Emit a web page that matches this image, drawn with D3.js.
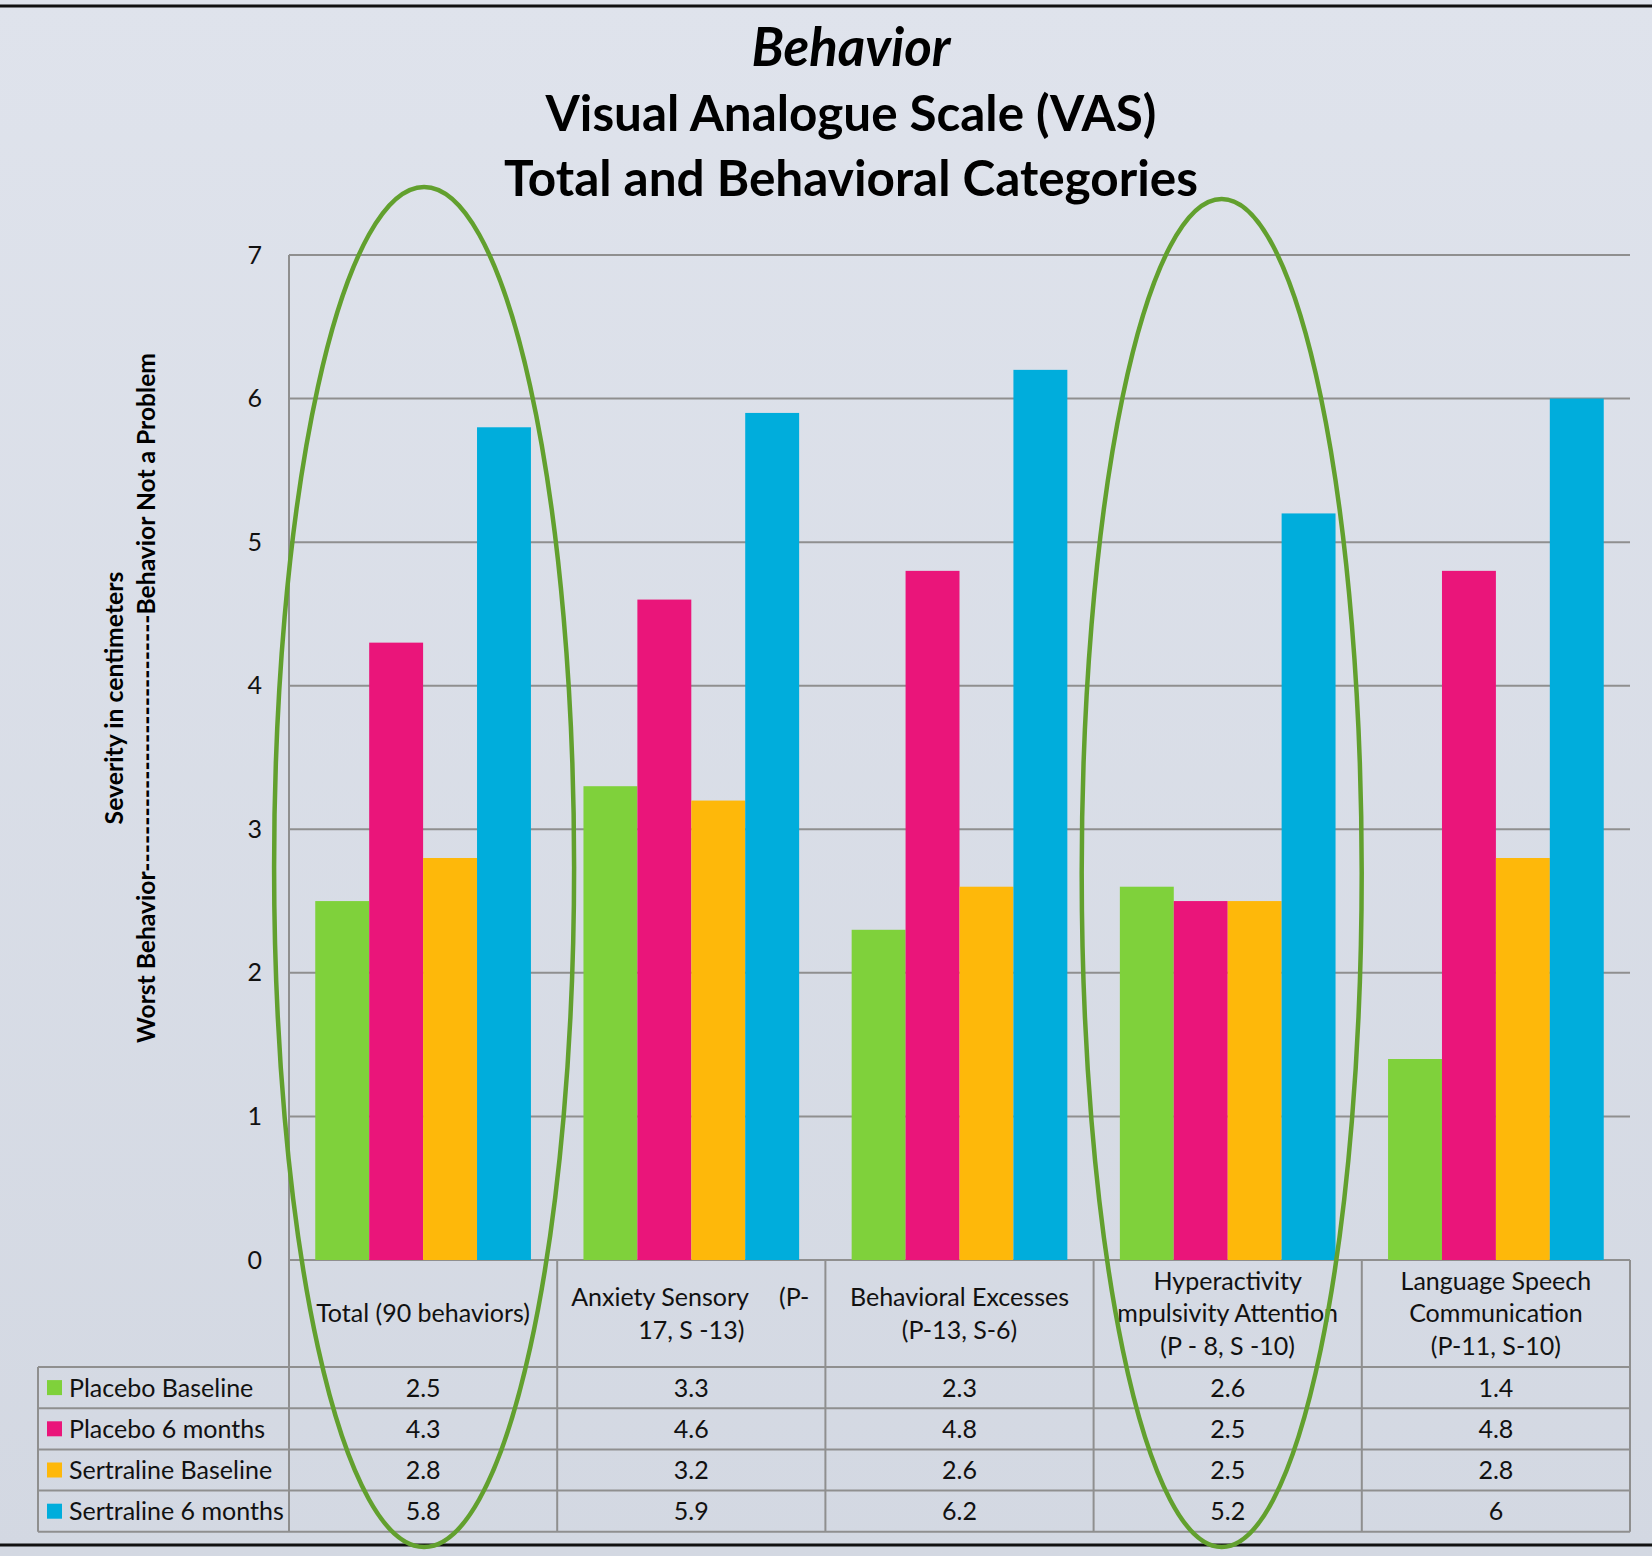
<!DOCTYPE html>
<html>
<head>
<meta charset="utf-8">
<script src="https://cdn.jsdelivr.net/npm/d3@7"></script>
<style>
  html, body { margin: 0; padding: 0; background: #d9dde7; }
  svg { display: block; }
</style>
</head>
<body>
<svg id="chart"></svg>
<script>
// ---- data ----
const categories = ["Total", "Anxiety Sensory", "Behavioral Excesses", "Hyperactivity", "Language Speech"];
// header cell text, one entry per line; a tab splits a justified line into left / right parts
const categoryLabels = [
  ["Total (90 behaviors)"],
  ["Anxiety Sensory\t(P-", "17, S -13)"],
  ["Behavioral Excesses", "(P-13, S-6)"],
  ["Hyperactivity", "mpulsivity Attention", "(P - 8, S -10)"],
  ["Language Speech", "Communication", "(P-11, S-10)"]
];
const seriesNames = ["Placebo Baseline", "Placebo 6 months", "Sertraline Baseline", "Sertraline 6 months"];
const placeboBaseline    = [2.5, 3.3, 2.3, 2.6, 1.4];
const placebo6Months     = [4.3, 4.6, 4.8, 2.5, 4.8];
const sertralineBaseline = [2.8, 3.2, 2.6, 2.5, 2.8];
const sertraline6Months  = [5.8, 5.9, 6.2, 5.2, 6];
const seriesColors = ["#7fd13b", "#ea157a", "#feb80a", "#00addc"];
const yTicks = [0, 1, 2, 3, 4, 5, 6, 7];
const highlighted = ["Total", "Hyperactivity"];
const titleLines = ["Behavior", "Visual Analogue Scale (VAS)", "Total and Behavioral Categories"];
const yTitleTop = "Severity in centimeters";
const yTitleBottom = "Worst Behavior" + "-".repeat(28) + "Behavior Not a Problem";

const seriesValues = [placeboBaseline, placebo6Months, sertralineBaseline, sertraline6Months];

// ---- layout ----
const W = 1652, H = 1556;
const FONT = "Lato, 'Open Sans', 'Noto Sans', sans-serif";
const plotLeft = 289, plotRight = 1630, plotTop = 255, plotBottom = 1260;
const legendLeft = 38;
const headerBottom = 1367;
const rowH = 41.2;
const gridColor = "#8f8f8f";

const svg = d3.select("#chart").attr("width", W).attr("height", H)
  .attr("viewBox", `0 0 ${W} ${H}`);

// background
const defs = svg.append("defs");
const grad = defs.append("linearGradient").attr("id", "bg").attr("x1", 0).attr("y1", 0).attr("x2", 0).attr("y2", 1);
grad.append("stop").attr("offset", "0%").attr("stop-color", "#dfe3ec");
grad.append("stop").attr("offset", "100%").attr("stop-color", "#d3d8e2");
svg.append("rect").attr("width", W).attr("height", H).attr("fill", "url(#bg)");

// text measuring helper, used to size fonts to the available widths
function measure(text, size, weight, style) {
  const t = svg.append("text").attr("font-family", FONT).attr("font-size", size)
    .attr("font-weight", weight).attr("font-style", style || "normal").text(text);
  const w = t.node().getComputedTextLength();
  t.remove();
  return w;
}
const fitSize = (text, width, weight, style) => 100 * width / measure(text, 100, weight, style);
const regSize = fitSize("Total (90 behaviors)", 214, 400);

// scales
const x = d3.scaleBand().domain(categories).range([plotLeft, plotRight]).paddingInner(0).paddingOuter(0);
const xs = d3.scaleBand().domain(seriesNames).range([0, x.bandwidth()]).paddingInner(0).paddingOuter(0.487);
const y = d3.scaleLinear().domain([0, 7]).range([plotBottom, plotTop]);

// frame lines top and bottom
svg.append("line").attr("x1", 0).attr("x2", W).attr("y1", 6).attr("y2", 6)
  .attr("stroke", "#111").attr("stroke-width", 3);
svg.append("line").attr("x1", 0).attr("x2", W).attr("y1", 1545).attr("y2", 1545)
  .attr("stroke", "#111").attr("stroke-width", 3);

// gridlines
svg.append("g").selectAll("line").data(yTicks).join("line")
  .attr("x1", plotLeft).attr("x2", plotRight)
  .attr("y1", d => y(d)).attr("y2", d => y(d))
  .attr("stroke", gridColor).attr("stroke-width", 2);

// y axis line (continues as table border)
const tableBottom = headerBottom + rowH * seriesNames.length;
svg.append("line").attr("x1", plotLeft).attr("x2", plotLeft).attr("y1", plotTop).attr("y2", tableBottom)
  .attr("stroke", gridColor).attr("stroke-width", 2);

// y axis tick labels
const yAxis = d3.axisLeft(y).tickValues(yTicks).tickSize(0).tickPadding(27).tickFormat(d3.format("d"));
const gy = svg.append("g").attr("transform", `translate(${plotLeft},0)`).call(yAxis);
gy.select(".domain").remove();
gy.selectAll("text").attr("font-family", FONT).attr("font-size", regSize).attr("fill", "#111");

// bars
const barData = [];
categories.forEach((c, ci) => seriesNames.forEach((s, si) => barData.push({ c, s, si, v: seriesValues[si][ci] })));
svg.append("g").selectAll("rect").data(barData).join("rect")
  .attr("x", d => x(d.c) + xs(d.s))
  .attr("width", xs.bandwidth())
  .attr("y", d => y(d.v))
  .attr("height", d => y(0) - y(d.v))
  .attr("fill", d => seriesColors[d.si]);

// data table
const table = svg.append("g").attr("stroke", gridColor).attr("stroke-width", 2);
// horizontal lines
d3.range(seriesNames.length + 1).forEach(i => {
  const yy = headerBottom + i * rowH;
  table.append("line").attr("x1", legendLeft).attr("x2", plotRight).attr("y1", yy).attr("y2", yy);
});
// vertical lines
table.append("line").attr("x1", legendLeft).attr("x2", legendLeft).attr("y1", headerBottom).attr("y2", tableBottom);
categories.forEach((c, i) => {
  const xx = x(c) + x.bandwidth();
  table.append("line").attr("x1", xx).attr("x2", xx).attr("y1", plotBottom).attr("y2", tableBottom);
});

const textG = svg.append("g").attr("font-family", FONT).attr("font-size", regSize).attr("fill", "#111");

// header labels
const lineGap = 32.5;
const headerMid = (plotBottom + headerBottom) / 2;
categories.forEach((c, ci) => {
  const lines = categoryLabels[ci];
  const x0 = x(c), cx = x0 + x.bandwidth() / 2;
  lines.forEach((ln, li) => {
    const yy = headerMid + (li - (lines.length - 1) / 2) * lineGap;
    if (ln.includes("\t")) {
      const [left, right] = ln.split("\t");
      textG.append("text").attr("x", x0 + 14).attr("y", yy).attr("dy", "0.35em").text(left);
      textG.append("text").attr("x", x0 + x.bandwidth() - 16).attr("y", yy).attr("dy", "0.35em")
        .attr("text-anchor", "end").text(right);
    } else {
      textG.append("text").attr("x", cx).attr("y", yy).attr("dy", "0.35em")
        .attr("text-anchor", "middle").text(ln);
    }
  });
});

// legend column and values
seriesNames.forEach((s, si) => {
  const cy = headerBottom + si * rowH + rowH / 2;
  svg.append("rect").attr("x", 47).attr("y", cy - 7.5).attr("width", 15).attr("height", 15)
    .attr("fill", seriesColors[si]);
  textG.append("text").attr("x", 69).attr("y", cy).attr("dy", "0.36em").text(s);
  categories.forEach((c, ci) => {
    textG.append("text").attr("x", x(c) + x.bandwidth() / 2).attr("y", cy).attr("dy", "0.36em")
      .attr("text-anchor", "middle").text(String(seriesValues[si][ci]));
  });
});

// title
const titleX = 851;
const titleSpecs = [
  { text: titleLines[0], width: 199, base: 66, style: "italic" },
  { text: titleLines[1], width: 611, base: 131, style: "normal" },
  { text: titleLines[2], width: 694, base: 196, style: "normal" }
];
titleSpecs.forEach(t => {
  svg.append("text").attr("x", titleX).attr("y", t.base).attr("text-anchor", "middle")
    .attr("font-family", FONT).attr("font-weight", 700).attr("font-style", t.style)
    .attr("font-size", fitSize(t.text, t.width, 700, t.style))
    .attr("fill", "#000").text(t.text);
});

// y axis title, two rotated lines
const yTitleCenter = 698;
[[yTitleTop, 253, 123], [yTitleBottom, 690, 155]].forEach(([txt, width, bx]) => {
  svg.append("text").attr("transform", `translate(${bx},${yTitleCenter}) rotate(-90)`)
    .attr("text-anchor", "middle").attr("font-family", FONT).attr("font-weight", 700)
    .attr("font-size", fitSize(txt, width, 700)).attr("fill", "#000").text(txt);
});

// highlight ellipses around selected categories
const ellipseSpec = { "Total": { dx: 1, rx: 150, cy: 867, ry: 680 }, "Hyperactivity": { dx: -6, rx: 140, cy: 873, ry: 674 } };
svg.append("g").selectAll("ellipse").data(highlighted).join("ellipse")
  .attr("cx", d => x(d) + x.bandwidth() / 2 + ellipseSpec[d].dx)
  .attr("cy", d => ellipseSpec[d].cy)
  .attr("rx", d => ellipseSpec[d].rx)
  .attr("ry", d => ellipseSpec[d].ry)
  .attr("fill", "none").attr("stroke", "#62a02e").attr("stroke-width", 4.5);
</script>
</body>
</html>
